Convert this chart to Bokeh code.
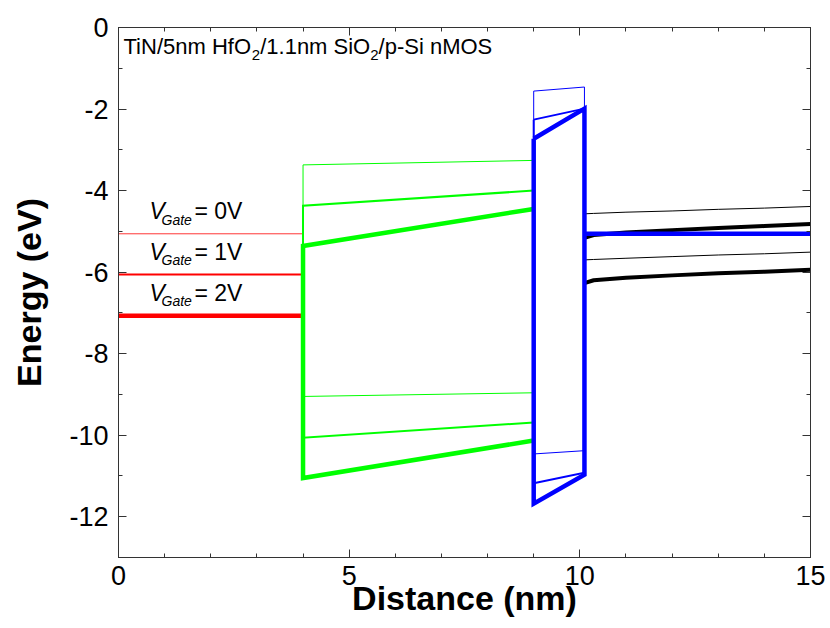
from bokeh.plotting import figure
from bokeh.models import Range1d, LinearAxis, SingleIntervalTicker, Label
from bokeh.embed import file_html
from bokeh.resources import INLINE

# ---------------- data ----------------
vgate_labels = ["0V", "1V", "2V"]
metal_x = [0, 4]
gate_level = [-5.06, -6.06, -7.07]          # TiN Fermi level for VG = 0, 1, 2 V

hfo2_x = [4, 9]
hfo2_ec_left = [-3.37, -4.37, -5.36]
hfo2_ec_right = [-3.26, -4.00, -4.45]
hfo2_ev_left = [-9.05, -10.06, -11.05]
hfo2_ev_right = [-8.96, -9.69, -10.13]

sio2_x = [9, 10.1]
sio2_ec_left = [-1.56, -2.26, -2.73]
sio2_ec_right = [-1.46, -1.99, -1.99]
sio2_ev_left = [-10.46, -11.18, -11.68]
sio2_ev_right = [-10.38, -10.92, -10.97]

si_x = [10.1, 10.3, 11, 12, 13, 14, 15]
si_ec_thin = [-4.57, -4.56, -4.53, -4.50, -4.46, -4.43, -4.39]
si_ev_thin = [-5.70, -5.69, -5.66, -5.62, -5.58, -5.55, -5.51]
si_ec_thick = [-5.16, -5.09, -5.03, -4.97, -4.92, -4.87, -4.82]
si_ev_thick = [-6.27, -6.20, -6.14, -6.08, -6.03, -5.99, -5.94]
si_fermi_x = [10.1, 15]
si_fermi = [-5.06, -5.06]

x_ticks = [0, 5, 10, 15]
y_ticks = [0, -2, -4, -6, -8, -10, -12]

widths = [1, 2, 4.5]

# ---------------- figure ----------------
p = figure(width=830, height=628, x_range=Range1d(0, 15), y_range=Range1d(-13, 0),
           output_backend="svg", toolbar_location=None,
           min_border_left=118, min_border_right=20, min_border_top=27, min_border_bottom=71)
p.background_fill_color = "white"
p.border_fill_color = "white"
p.outline_line_color = "#333333"
p.outline_line_width = 1
p.xgrid.visible = False
p.ygrid.visible = False

FONT = "Liberation Sans"

def style_axis(ax, show_labels):
    ax.axis_line_color = "#333333"
    ax.major_tick_in = 8
    ax.major_tick_out = 0
    ax.minor_tick_in = 4
    ax.minor_tick_out = 0
    ax.major_tick_line_color = "#333333"
    ax.minor_tick_line_color = "#333333"
    ax.major_label_text_font = FONT
    if show_labels:
        ax.major_label_text_font_size = "27px"
        ax.major_label_text_color = "black"
    else:
        ax.major_label_text_font_size = "8px"
        ax.major_label_text_color = None
        ax.major_label_standoff = 0

xt = SingleIntervalTicker(interval=5, num_minor_ticks=5)
yt = SingleIntervalTicker(interval=2, num_minor_ticks=2)
p.xaxis.ticker = xt
p.yaxis.ticker = yt
style_axis(p.xaxis[0], True)
style_axis(p.yaxis[0], True)
p.xaxis.major_label_overrides = {t: str(t) for t in x_ticks}
p.yaxis.major_label_overrides = {t: str(t) for t in y_ticks}
p.xaxis.major_label_standoff = 8
p.yaxis.major_label_standoff = 10

p.xaxis.axis_label = "Distance (nm)"
p.yaxis.axis_label = "Energy (eV)"
for ax in (p.xaxis[0], p.yaxis[0]):
    ax.axis_label_text_font = FONT
    ax.axis_label_text_font_style = "bold"
    ax.axis_label_text_font_size = "34px"
    ax.axis_label_text_color = "black"
p.xaxis.axis_label_standoff = -9
p.yaxis.axis_label_standoff = 18

top = LinearAxis(ticker=SingleIntervalTicker(interval=5, num_minor_ticks=5))
right = LinearAxis(ticker=SingleIntervalTicker(interval=2, num_minor_ticks=2))
style_axis(top, False)
style_axis(right, False)
p.add_layout(top, "above")
p.add_layout(right, "right")

# ---------------- gate (red) ----------------
for i in range(3):
    p.line(metal_x, [gate_level[i]] * 2, line_color="#ff0000", line_width=[0.8, 2, 4.5][i])

# ---------------- HfO2 (green) ----------------
for i in range(3):
    p.line([hfo2_x[1], hfo2_x[0], hfo2_x[0], hfo2_x[1]],
           [hfo2_ec_right[i], hfo2_ec_left[i], hfo2_ev_left[i], hfo2_ev_right[i]],
           line_color="#00ff00", line_width=widths[i], line_join="miter")

# ---------------- Si (black) ----------------
p.line(si_x, si_ec_thin, line_color="black", line_width=1)
p.line(si_x, si_ev_thin, line_color="black", line_width=1)
p.line(si_x, si_ec_thick, line_color="black", line_width=4)
p.line(si_x, si_ev_thick, line_color="black", line_width=4)

# ---------------- SiO2 (blue) ----------------
for i in range(3):
    p.line([sio2_x[0], sio2_x[1], sio2_x[1], sio2_x[0], sio2_x[0]],
           [sio2_ec_left[i], sio2_ec_right[i], sio2_ev_right[i], sio2_ev_left[i], sio2_ec_left[i]],
           line_color="#0000ff", line_width=widths[i], line_join="miter")
p.line(si_fermi_x, si_fermi, line_color="#0000ff", line_width=4.5)

# ---------------- annotations ----------------
# Arial / Liberation Sans advance widths (per 1000 em)
AW = {'T': 611, 'i': 222, 'N': 722, '/': 278, '5': 556, 'n': 556, 'm': 833, ' ': 278,
      'H': 722, 'f': 278, 'O': 778, '2': 556, '1': 556, '.': 278, 'S': 667, 'p': 556,
      '-': 333, 'M': 833}

def tw(s, size):
    return sum(AW.get(c, 556) for c in s) * size / 1000.0

title_parts = [("TiN/5nm HfO", False), ("2", True), ("/1.1nm SiO", False), ("2", True), ("/p-Si nMOS", False)]
x_px = 5.0
main_size = 22
sub_size = 15
for txt, sub in title_parts:
    size = sub_size if sub else main_size
    lab = Label(x=0, y=-0.47 if not sub else -0.67, x_offset=x_px, text=txt,
                text_font=FONT, text_font_size=f"{size}px", text_color="black",
                text_baseline="alphabetic", text_align="left")
    p.add_layout(lab)
    x_px += tw(txt, size)

for i in range(3):
    base = gate_level[i] + 0.55
    p.add_layout(Label(x=0, y=base, x_offset=31, text="V", text_font=FONT,
                       text_font_style="italic", text_font_size="23px", text_color="black",
                       text_baseline="alphabetic"))
    p.add_layout(Label(x=0, y=base - 0.2, x_offset=43, text="Gate", text_font=FONT,
                       text_font_style="italic", text_font_size="14px", text_color="black",
                       text_baseline="alphabetic"))
    p.add_layout(Label(x=0, y=base, x_offset=76, text="= " + vgate_labels[i], text_font=FONT,
                       text_font_size="23px", text_color="black",
                       text_baseline="alphabetic"))

open("out.html", "w").write(file_html(p, INLINE))
